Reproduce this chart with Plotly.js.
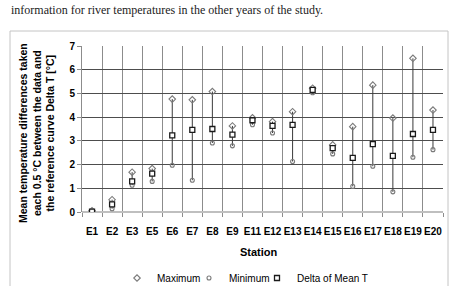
<!DOCTYPE html>
<html>
<head>
<meta charset="utf-8">
<script src="https://cdn.plot.ly/plotly-3.0.1.min.js"></script>
<style>
  html, body { margin: 0; padding: 0; background: #ffffff; }
  #chart { width: 453px; height: 286px; }
</style>
</head>
<body>
<div id="chart"></div>
<script>
// Monitoring stations along the river
const stations = ['E1','E2','E3','E5','E6','E7','E8','E9','E11','E12','E13','E14','E15','E16','E17','E18','E19','E20'];

// Temperature differences (°C) per station
const maximum = [0.05, 0.52, 1.68, 1.83, 4.76, 4.73, 5.08, 3.63, 3.97, 3.81, 4.23, 5.22, 2.83, 3.60, 5.35, 3.96, 6.48, 4.30];
const minimum = [0.00, 0.14, 1.13, 1.29, 1.97, 1.34, 2.91, 2.79, 3.68, 3.33, 2.13, 5.03, 2.45, 1.08, 1.93, 0.85, 2.31, 2.63];
const deltaMean = [0.02, 0.32, 1.29, 1.62, 3.23, 3.46, 3.50, 3.26, 3.87, 3.63, 3.67, 5.15, 2.69, 2.28, 2.86, 2.37, 3.29, 3.46];

const yTickVals = [0, 1, 2, 3, 4, 5, 6, 7];

// High-low connector for every station (min to max)
const rangeX = [], rangeY = [];
stations.forEach((s, i) => {
  rangeX.push(s, s, null);
  rangeY.push(minimum[i], maximum[i], null);
});

const traces = [
  {
    x: rangeX, y: rangeY, type: 'scatter', mode: 'lines',
    line: { color: '#3a3a3a', width: 1 },
    showlegend: false, hoverinfo: 'skip'
  },
  {
    name: 'Maximum', x: stations, y: maximum, type: 'scatter', mode: 'markers',
    legend: 'legend',
    marker: { symbol: 'diamond-open', size: 5, color: '#7a7a7a', line: { width: 1.1 } }
  },
  {
    name: 'Minimum', x: stations, y: minimum, type: 'scatter', mode: 'markers',
    legend: 'legend2',
    marker: { symbol: 'circle-open', size: 4, color: '#7a7a7a', line: { width: 1.1 } }
  },
  {
    name: 'Delta of Mean T', x: stations, y: deltaMean, type: 'scatter', mode: 'markers',
    legend: 'legend3',
    marker: { symbol: 'square', size: 5, color: '#ffffff', line: { color: '#1a1a1a', width: 1.3 } }
  }
];

const L = 82, R = 10, T = 46, B = 74;
const W = 453, H = 286;
const pw = W - L - R, ph = H - T - B;
const px2x = p => (p - L) / pw;
const px2y = p => (H - B - p) / ph;

// One compact legend box per series, laid out in a single row
const legendBox = leftPx => ({
  orientation: 'h', x: px2x(leftPx), xanchor: 'left', y: px2y(278), yanchor: 'middle',
  font: { size: 10, color: '#000000' }, itemwidth: 30, bgcolor: 'rgba(0,0,0,0)'
});

const layout = {
  width: W, height: H,
  margin: { l: L, r: R, t: T, b: B, pad: 0, autoexpand: false },
  paper_bgcolor: '#ffffff', plot_bgcolor: '#ffffff',
  font: { family: 'Liberation Sans, Arial, sans-serif', color: '#000000', size: 10 },
  showlegend: true,
  legend: legendBox(117),
  legend2: legendBox(189),
  legend3: legendBox(257),
  xaxis: {
    type: 'category', categoryorder: 'array', categoryarray: stations,
    range: [-0.5, stations.length - 0.5],
    tickson: 'boundaries', ticks: 'outside', ticklen: 4, tickcolor: '#8c8c8c',
    tickangle: 0, automargin: false, ticklabelstandoff: 12,
    showgrid: true, gridcolor: '#8c8c8c', gridwidth: 1,
    showline: false, zeroline: false,
    tickfont: { size: 10, color: '#000000', family: 'Liberation Sans, Arial, sans-serif', weight: 'bold' },
    fixedrange: true
  },
  yaxis: {
    range: [0, 7], tickvals: yTickVals, ticktext: yTickVals.map(String),
    ticks: 'outside', ticklen: 4, tickcolor: '#8c8c8c', automargin: false,
    showgrid: true, gridcolor: '#4d4d4d', gridwidth: 1,
    showline: true, linecolor: '#8c8c8c', linewidth: 1,
    zeroline: true, zerolinecolor: '#bfbfbf', zerolinewidth: 2,
    tickfont: { size: 10, color: '#000000', weight: 'bold' },
    fixedrange: true
  },
  shapes: [
    {
      type: 'rect', xref: 'paper', yref: 'paper', layer: 'below',
      x0: px2x(10), x1: px2x(448), y0: px2y(300), y1: px2y(31),
      line: { color: '#c4c4c4', width: 1 }, fillcolor: 'rgba(0,0,0,0)'
    }
  ],
  annotations: [
    {
      text: 'information for river temperatures in the other years of the study.',
      xref: 'paper', yref: 'paper', x: px2x(9), y: px2y(10),
      xanchor: 'left', yanchor: 'middle', showarrow: false,
      font: { family: 'Liberation Serif, Times New Roman, serif', size: 12, color: '#222222' }
    },
    {
      text: 'Mean temperature differences taken<br>each 0.5 °C between the data and<br>the reference curve Delta T [°C]',
      xref: 'paper', yref: 'paper', x: px2x(36), y: px2y(133),
      xanchor: 'center', yanchor: 'middle', textangle: -90, showarrow: false,
      font: { size: 10.5, color: '#000000', weight: 'bold' }
    },
    {
      text: 'Station',
      xref: 'paper', yref: 'paper', x: px2x(259), y: px2y(252),
      xanchor: 'center', yanchor: 'middle', showarrow: false,
      font: { size: 11, color: '#000000', weight: 'bold' }
    }
  ]
};

Plotly.newPlot('chart', traces, layout, { displayModeBar: false, staticPlot: true });
</script>
</body>
</html>
